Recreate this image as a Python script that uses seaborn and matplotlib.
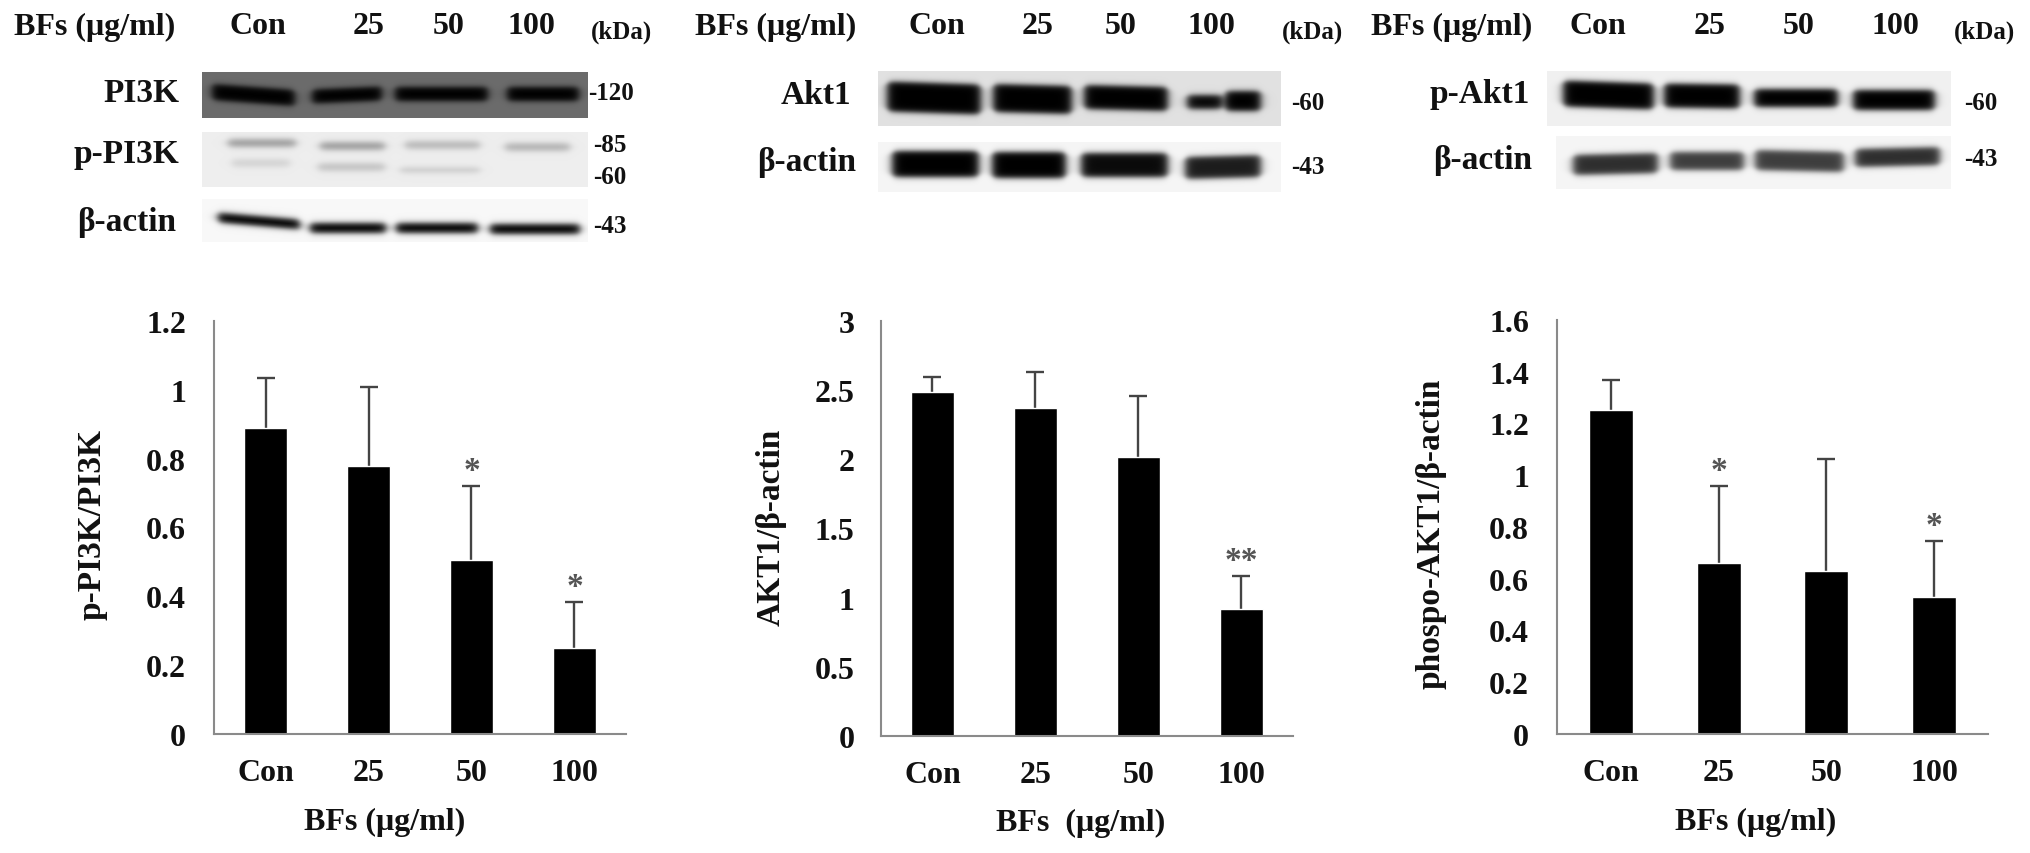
import numpy as np
import pandas as pd
import matplotlib
matplotlib.use('Agg')
import matplotlib.pyplot as plt
import seaborn as sns

W, H = 2031, 854

doses = ["Con", "25", "50", "100"]

# bar charts: means and top of the error bars
pi3k_mean = [0.89, 0.78, 0.506, 0.25]
pi3k_top = [1.034, 1.007, 0.722, 0.384]
pi3k_ticks = [0, 0.2, 0.4, 0.6, 0.8, 1, 1.2]
pi3k_stars = ["", "", "*", "*"]

akt_mean = [2.485, 2.373, 2.015, 0.915]
akt_top = [2.597, 2.628, 2.459, 1.159]
akt_ticks = [0, 0.5, 1, 1.5, 2, 2.5, 3]
akt_stars = ["", "", "", "**"]

pakt_mean = [1.254, 0.661, 0.631, 0.529]
pakt_top = [1.367, 0.960, 1.064, 0.744]
pakt_ticks = [0, 0.2, 0.4, 0.6, 0.8, 1, 1.2, 1.4, 1.6]
pakt_stars = ["", "*", "", "*"]

# blots: (left, top, right, bottom, background), then bands as
# (x0, x1, y centre, half height, darkness, tilt in px over the band)
blot_pi3k = ((202, 73, 588, 119, 0.42), [(212, 295, 96, 8, 0.42, 6), (312, 382, 96, 7, 0.42, -3),
                                         (395, 488, 95, 7, 0.42, 0), (507, 579, 95, 7, 0.42, 0)])
blot_ppi3k = ((202, 133, 588, 188, 0.93), [(228, 296, 144, 4, 0.3, 0), (320, 385, 147, 4, 0.3, 0),
                                           (405, 480, 146, 4, 0.2, 0), (505, 570, 148, 4, 0.22, 0),
                                           (232, 290, 164, 4, 0.1, 0), (318, 385, 168, 4, 0.16, 0),
                                           (400, 480, 171, 3, 0.12, 0)])
blot_actin1 = ((202, 200, 588, 243, 0.97), [(218, 300, 222, 5, 0.95, 7), (310, 386, 229, 5, 0.95, 0),
                                            (396, 478, 229, 5, 0.95, 0), (490, 580, 230, 5, 0.95, 0)])
blot_akt = ((878, 72, 1281, 127, 0.88), [(887, 981, 99, 15, 0.88, 3), (993, 1072, 100, 14, 0.88, 2),
                                         (1084, 1168, 99, 12, 0.88, 2), (1187, 1222, 103, 7, 0.85, 0),
                                         (1225, 1261, 102, 10, 0.88, 0)])
blot_actin2 = ((878, 143, 1281, 193, 0.96), [(892, 979, 165, 13, 0.96, 0), (992, 1066, 166, 13, 0.96, 0),
                                             (1081, 1168, 166, 12, 0.92, 0), (1185, 1261, 168, 11, 0.85, -2)])
blot_pakt = ((1547, 72, 1951, 127, 0.94), [(1563, 1654, 96, 13, 0.94, 3), (1664, 1740, 97, 12, 0.94, 1),
                                           (1754, 1838, 99, 9, 0.94, 0), (1853, 1935, 101, 10, 0.94, 0)])
blot_actin3 = ((1556, 137, 1951, 190, 0.96), [(1573, 1658, 165, 10, 0.78, -2), (1670, 1744, 162, 9, 0.72, 0),
                                              (1755, 1844, 162, 10, 0.72, 2), (1855, 1940, 158, 9, 0.78, -2)])


def blot_image(box, bands):
    left, top, right, bottom, bg = box
    xx, yy = np.meshgrid(np.arange(left, right) + 0.5, np.arange(top, bottom) + 0.5)
    img = np.full(xx.shape, float(bg))
    for x0, x1, yc, half, dark, tilt in bands:
        frac = (xx - x0) / (x1 - x0)
        yline = yc + tilt * (frac - 0.5)
        along = 0.25 * (1 + np.tanh((xx - x0) / 5)) * (1 + np.tanh((x1 - xx) / 5))
        taper = half * (0.6 + 0.4 * np.sqrt(along))
        across = 0.5 * (1 - np.tanh((np.abs(yy - yline) - taper) / 3.2))
        img -= dark * across * along
    return np.clip(img, 0, 1)


def px_axes(fig, left, top, right, bottom):
    return fig.add_axes([left / W, 1 - bottom / H, (right - left) / W, (bottom - top) / H])


def label(fig, x, y, text, size=23, **kw):
    kw.setdefault("ha", "center")
    kw.setdefault("va", "center")
    fig.text(x / W, 1 - y / H, text, fontsize=size, fontweight="bold", color="#111111", **kw)


def draw_blot(fig, blot):
    box, bands = blot
    ax = px_axes(fig, box[0], box[1], box[2], box[3])
    sns.heatmap(blot_image(box, bands), cmap="gray", vmin=0, vmax=1, cbar=False,
                xticklabels=False, yticklabels=False, ax=ax)
    ax.set_xlabel("")
    ax.set_ylabel("")


def draw_bars(fig, rect, mean, top, ticks, stars, ylabel_text, pad):
    ax = px_axes(fig, *rect)
    df = pd.DataFrame({"dose": doses, "mean": mean})
    sns.barplot(data=df, x="dose", y="mean", color="black", width=0.41, saturation=1, ax=ax)
    upper = np.array(top) - np.array(mean)
    eb = ax.errorbar(range(4), mean, yerr=[np.zeros(4), upper], fmt="none", ecolor="#444444",
                     elinewidth=1.7, capsize=6.5, capthick=1.7, zorder=0.5)
    # only the upper cap is wanted
    eb[1][0].set_visible(False)
    ax.set_xlim(-0.5, 3.5)
    ax.set_ylim(0, ticks[-1])
    ax.set_yticks(ticks)
    ax.set_yticklabels([str(t) for t in ticks])
    ax.set_xlabel("")
    ax.set_ylabel("")
    ax.tick_params(axis="y", direction="in", length=7, width=1.3, color="#8a8a8a", pad=pad, labelsize=23)
    ax.tick_params(axis="x", length=0, pad=17, labelsize=23)
    for t in ax.get_xticklabels() + ax.get_yticklabels():
        t.set_fontweight("bold")
        t.set_color("#111111")
    for side in ["top", "right"]:
        ax.spines[side].set_visible(False)
    for side in ["left", "bottom"]:
        ax.spines[side].set_color("#8a8a8a")
        ax.spines[side].set_linewidth(1.5)
    for i, star in enumerate(stars):
        if star:
            ax.annotate(star, (i, top[i]), xytext=(0, 0), textcoords="offset points", ha="center",
                        va="bottom", fontsize=24, fontweight="bold", color="#555555")
    label(fig, ylabel_text[1], ylabel_text[2], ylabel_text[0], size=24, rotation=90)


sns.set_theme(style="white")
plt.rcParams['font.family'] = ['Liberation Serif', 'DejaVu Serif']

fig = plt.figure(figsize=(W / 100, H / 100), dpi=100, facecolor="white")

for blot in [blot_pi3k, blot_ppi3k, blot_actin1, blot_akt, blot_actin2, blot_pakt, blot_actin3]:
    draw_blot(fig, blot)

draw_bars(fig, (214, 322, 626, 735), pi3k_mean, pi3k_top, pi3k_ticks, pi3k_stars,
          ("p-PI3K/PI3K", 92, 524), 20)
draw_bars(fig, (881, 322, 1293, 737), akt_mean, akt_top, akt_ticks, akt_stars,
          ("AKT1/β-actin", 771, 527), 19)
draw_bars(fig, (1557, 321, 1988, 735), pakt_mean, pakt_top, pakt_ticks, pakt_stars,
          ("phospo-AKT1/β-actin", 1431, 534), 20)

label(fig, 385, 822, "BFs (μg/ml)")
label(fig, 1081, 823, "BFs  (μg/ml)")
label(fig, 1756, 822, "BFs (μg/ml)")

# blot headers
label(fig, 95, 27, "BFs (μg/ml)")
label(fig, 776, 27, "BFs (μg/ml)")
label(fig, 1452, 27, "BFs (μg/ml)")
for xs in [(258, 369, 449, 531), (937, 1038, 1121, 1211), (1598, 1710, 1799, 1895)]:
    for x, d in zip(xs, doses):
        label(fig, x, 26, d)
for x in [622, 1313, 1985]:
    label(fig, x, 32, "(kDa)", size=18)

# blot row names
for x, y, name in [(179, 93, "PI3K"), (179, 155, "p-PI3K"), (176, 223, "β-actin"),
                   (851, 95, "Akt1"), (856, 163, "β-actin"),
                   (1530, 95, "p-Akt1"), (1532, 161, "β-actin")]:
    label(fig, x, y, name, size=24, ha="right")

# molecular weights
for x, y, kda in [(588, 93, "-120"), (593, 145, "-85"), (593, 178, "-60"), (593, 227, "-43"),
                  (1291, 103, "-60"), (1291, 167, "-43"),
                  (1964, 103, "-60"), (1964, 160, "-43")]:
    label(fig, x, y, kda, size=18, ha="left")

fig.savefig("out.png", dpi=100, facecolor="white")
plt.close(fig)
